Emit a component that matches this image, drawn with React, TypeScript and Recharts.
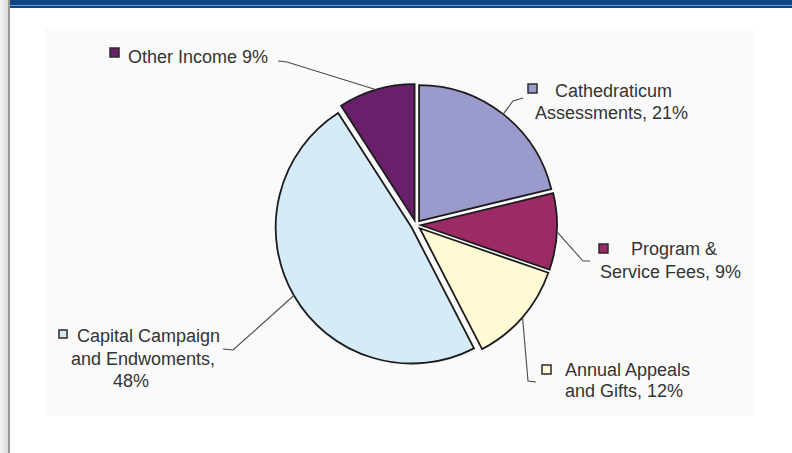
import { PieChart, Pie, Cell, Sector } from 'recharts';

// slices in clockwise order starting at 12 o'clock
const categories = [
  'Cathedraticum Assessments',
  'Program & Service Fees',
  'Annual Appeals and Gifts',
  'Capital Campaign and Endwoments',
  'Other Income',
];
const shares = [21, 9, 12, 48, 9];
const sliceColors = ['#9a9acd', '#9c2a64', '#fffad4', '#d6ebf8', '#6a1f6b'];
const labelText = [
  ['Cathedraticum', 'Assessments, 21%'],
  ['Program &', 'Service Fees, 9%'],
  ['Annual Appeals', 'and Gifts, 12%'],
  ['Capital Campaign', 'and Endwoments,', '48%'],
  ['Other Income 9%'],
];

const data = categories.map((name, i) => ({ name, value: shares[i] }));

// where each callout sits: legend square, text line starts, leader elbow + end
const calloutLayout = [
  { square: [528, 84, 9], lines: [[555, 97], [535, 119]], leader: [[513, 101], [523, 98]] },
  { square: [599, 244, 9], lines: [[631, 255], [600, 278]], leader: [[583, 261], [590, 261]] },
  { square: [542, 365, 9], lines: [[565, 376], [565, 397]], leader: [[528, 381], [536, 382]] },
  { square: [59, 330, 8], lines: [[77, 342], [71, 365], [113, 387]], leader: [[233, 350], [223, 349]] },
  { square: [110, 48, 9], lines: [[128, 63]], leader: [[287, 62], [278, 61]] },
];

const RAD = Math.PI / 180;
const EXPLODE = 5;
const FONT = '"Liberation Sans", Arial, sans-serif';

const renderSlice = (props: any) => {
  const { cx, cy, outerRadius, startAngle, endAngle, midAngle, index } = props;
  const ux = Math.cos(-midAngle * RAD);
  const uy = Math.sin(-midAngle * RAD);
  const scx = cx + EXPLODE * ux;
  const scy = cy + EXPLODE * uy;
  const lay = calloutLayout[index];
  const start = [scx + outerRadius * ux, scy + outerRadius * uy];
  const pts = [start, ...lay.leader].map((p) => p.join(',')).join(' ');
  const [sqx, sqy, sqs] = lay.square;
  return (
    <g key={`slice-${index}`}>
      <Sector
        cx={scx}
        cy={scy}
        innerRadius={0}
        outerRadius={outerRadius}
        startAngle={startAngle}
        endAngle={endAngle}
        fill={sliceColors[index]}
        stroke="#1c1c1c"
        strokeWidth={1.8}
      />
      <polyline points={pts} fill="none" stroke="#4a4a4a" strokeWidth={1.1} />
      <rect x={sqx} y={sqy} width={sqs} height={sqs} fill={sliceColors[index]} stroke="#2a2a2a" strokeWidth={1.5} />
      {labelText[index].map((t, j) => (
        <text key={j} x={lay.lines[j][0]} y={lay.lines[j][1]} fontSize={18} fill="#333" fontFamily={FONT}>
          {t}
        </text>
      ))}
    </g>
  );
};

export default function App() {
  return (
    <div style={{ position: 'absolute', left: 0, top: 0, width: 792, height: 453, background: '#fff', overflow: 'hidden' }}>
      {/* left gray strip */}
      <div style={{ position: 'absolute', left: 0, top: 0, width: 8, height: 453, background: 'linear-gradient(to right, #f4f4f4, #dcdcdc)' }} />
      <div style={{ position: 'absolute', left: 8, top: 0, width: 2, height: 453, background: '#9a9a9a' }} />
      {/* top blue bar */}
      <div style={{ position: 'absolute', left: 10, top: 0, width: 782, height: 5, background: '#0c4784' }} />
      <div style={{ position: 'absolute', left: 10, top: 5, width: 782, height: 1, background: '#6f9bd0' }} />
      <div style={{ position: 'absolute', left: 10, top: 6, width: 782, height: 1.5, background: '#0c4784' }} />
      {/* chart backdrop */}
      <div style={{ position: 'absolute', left: 45, top: 29, width: 708, height: 387, background: '#fafafa' }} />
      <div style={{ position: 'absolute', left: 0, top: 0 }}>
        <PieChart width={792} height={453} margin={{ top: 0, right: 0, bottom: 0, left: 0 }}>
          <Pie
            data={data}
            dataKey="value"
            nameKey="name"
            cx={416}
            cy={225}
            outerRadius={136}
            startAngle={90}
            endAngle={-270}
            stroke="none"
            label={renderSlice}
            labelLine={false}
            isAnimationActive={false}
          >
            {data.map((d) => (
              <Cell key={d.name} fill="transparent" />
            ))}
          </Pie>
        </PieChart>
      </div>
    </div>
  );
}
